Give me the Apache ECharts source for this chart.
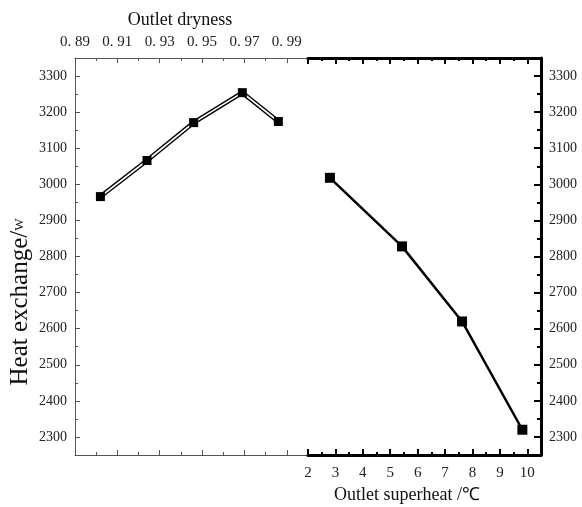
<!DOCTYPE html>
<html>
<head>
<meta charset="utf-8">
<script src="https://cdn.jsdelivr.net/npm/echarts@6/dist/echarts.min.js"></script>
<style>
  html, body { margin: 0; padding: 0; background: #fff; }
  #main { width: 582px; height: 507px; }
</style>
</head>
<body>
<div id="main"></div>
<script>
// values
const dryness = [0.902, 0.924, 0.946, 0.969, 0.986];
const heatDry = [2966, 3066, 3171, 3254, 3174];
const superheat = [2.8, 5.43, 7.62, 9.82];
const heatSup = [3018, 2828, 2620, 2320];

const dryLabels = [0.89, 0.91, 0.93, 0.95, 0.97, 0.99];
const dryMinor = [0.90, 0.92, 0.94, 0.96, 0.98, 1.00];
const supLabels = [2, 3, 4, 5, 6, 7, 8, 9, 10];
const supMinor = [2.5, 3.5, 4.5, 5.5, 6.5, 7.5, 8.5, 9.5, 10.5];
const heatLabels = [2300, 2400, 2500, 2600, 2700, 2800, 2900, 3000, 3100, 3200, 3300];
const heatMinor = [2350, 2450, 2550, 2650, 2750, 2850, 2950, 3050, 3150, 3250];

const serif = "'Liberation Serif', 'Times New Roman', serif";
const thin = '#555';
const thick = '#000';

const chart = echarts.init(document.getElementById('main'));

// one axis = one line + one set of ticks (+ optional labels)
function axis(grid, pos, min, max, ticks, len, color, w, opts) {
  opts = opts || {};
  return {
    type: 'value', gridIndex: grid, position: pos, min: min, max: max,
    splitLine: { show: false },
    axisLine: { show: !!opts.line, onZero: false, lineStyle: { color: color, width: opts.lineWidth || w } },
    axisTick: { show: true, inside: true, length: len, customValues: ticks, lineStyle: { color: color, width: w } },
    axisLabel: opts.labels ? {
      show: true, customValues: opts.labels, margin: opts.margin || 8,
      color: '#222', fontFamily: serif, fontSize: opts.fontSize || 14,
      formatter: opts.fmt || (v => String(v))
    } : { show: false },
    axisPointer: { show: false }
  };
}

const dryFmt = v => v.toFixed(2).replace('.', '. ');

const option = {
  animation: false,
  backgroundColor: '#fff',
  grid: [
    { left: 75, top: 58, width: 233, height: 397 },
    { left: 308, top: 58, width: 233, height: 397 }
  ],
  xAxis: [
    axis(0, 'top', 0.89, 1.00, dryLabels, 5, thin, 1, { line: true, labels: dryLabels, fmt: dryFmt, margin: 8, fontSize: 15 }),
    axis(0, 'top', 0.89, 1.00, dryMinor, 3, thin, 1),
    axis(0, 'bottom', 0.89, 1.00, dryLabels, 5, thin, 1, { line: true }),
    axis(0, 'bottom', 0.89, 1.00, dryMinor, 3, thin, 1),
    axis(1, 'bottom', 2, 10.5, supLabels, 6, thick, 2, { line: true, lineWidth: 3, labels: supLabels, margin: 11, fontSize: 15 }),
    axis(1, 'bottom', 2, 10.5, supMinor, 3, thick, 2),
    axis(1, 'top', 2, 10.5, supLabels, 6, thick, 2, { line: true, lineWidth: 3 }),
    axis(1, 'top', 2, 10.5, supMinor, 3, thick, 2)
  ],
  yAxis: [
    axis(0, 'left', 2250, 3350, heatLabels, 5, thin, 1, { line: true, labels: heatLabels, margin: 8 }),
    axis(0, 'left', 2250, 3350, heatMinor, 3, thin, 1),
    axis(1, 'right', 2250, 3350, heatLabels, 7, thick, 2, { line: true, lineWidth: 3, labels: heatLabels, margin: 8 }),
    axis(1, 'right', 2250, 3350, heatMinor, 4, thick, 2)
  ],
  graphic: [
    {
      type: 'text', x: 180, y: 20,
      style: { text: 'Outlet dryness', fontFamily: serif, fontSize: 18, fill: '#111', align: 'center', verticalAlign: 'middle' }
    },
    {
      type: 'text', x: 407, y: 495,
      style: { text: 'Outlet superheat /℃', fontFamily: serif, fontSize: 18, fill: '#111', align: 'center', verticalAlign: 'middle' }
    },
    {
      type: 'text', x: 20, y: 302, rotation: Math.PI / 2,
      style: {
        text: '{a|Heat exchange/}{b|W}', align: 'center', verticalAlign: 'middle',
        rich: {
          a: { fontFamily: serif, fontSize: 25, fill: '#111' },
          b: { fontFamily: serif, fontSize: 13, fill: '#111' }
        }
      }
    }
  ],
  series: [
    {
      type: 'line', xAxisIndex: 0, yAxisIndex: 0, symbol: 'none', z: 2,
      lineStyle: { color: '#000', width: 4.5 },
      data: dryness.map((d, i) => [d, heatDry[i]])
    },
    {
      type: 'line', xAxisIndex: 0, yAxisIndex: 0, symbol: 'none', z: 3,
      lineStyle: { color: '#fff', width: 1.7 },
      data: dryness.map((d, i) => [d, heatDry[i]])
    },
    {
      type: 'scatter', xAxisIndex: 0, yAxisIndex: 0, symbol: 'rect', symbolSize: 9, z: 4,
      itemStyle: { color: '#000', opacity: 1 },
      data: dryness.map((d, i) => [d, heatDry[i]])
    },
    {
      type: 'line', xAxisIndex: 4, yAxisIndex: 2, symbol: 'rect', symbolSize: 10, z: 4,
      lineStyle: { color: '#000', width: 2.5 },
      itemStyle: { color: '#000', opacity: 1 },
      data: superheat.map((s, i) => [s, heatSup[i]])
    }
  ]
};

chart.setOption(option);
</script>
</body>
</html>
